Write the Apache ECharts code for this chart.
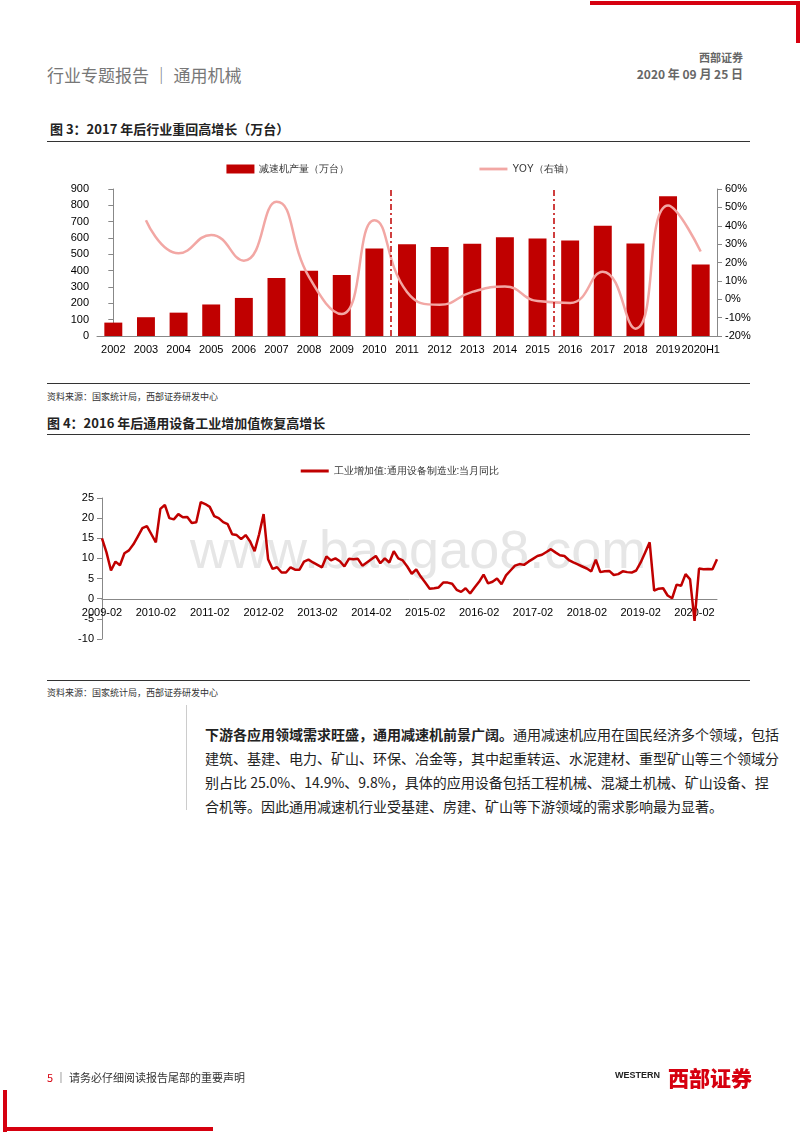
<!DOCTYPE html>
<html><head><meta charset="utf-8">
<script src="https://cdn.jsdelivr.net/npm/echarts@6/dist/echarts.min.js"></script>
<style>
body{margin:0;width:800px;height:1132px;position:relative;background:#fff;font-family:"Noto Sans CJK SC","Noto Sans",sans-serif;overflow:hidden}
.a{position:absolute;white-space:nowrap}
#c{position:absolute;left:0;top:0;width:800px;height:1132px}
.p{position:absolute;left:205px;font-size:14px;color:#222;line-height:24px}
</style></head><body>
<div class="a" style="left:590px;top:1px;width:210px;height:4px;background:#d6000f"></div>
<div class="a" style="left:796px;top:1px;width:4px;height:42px;background:#d6000f"></div>
<div class="a" style="left:47px;top:62px;font-size:17px;color:#777">行业专题报告 ｜ 通用机械</div>
<div class="a" style="right:57px;top:49px;font-size:11px;color:#666;font-weight:bold">西部证券</div>
<div class="a" style="right:57px;top:65px;font-size:12px;color:#666;font-weight:bold">2020 年 09 月 25 日</div>
<div class="a" style="left:50px;top:119px;font-size:13px;color:#222;font-weight:bold">图 3：2017 年后行业重回高增长（万台）</div>
<div class="a" style="left:47px;top:141px;width:703px;height:1px;background:#333"></div>
<div class="a" style="left:47px;top:383px;width:703px;height:1px;background:#333"></div>
<div class="a" style="left:47px;top:390px;font-size:9px;color:#333">资料来源：国家统计局，西部证券研发中心</div>
<div class="a" style="left:47px;top:413px;font-size:13px;color:#222;font-weight:bold">图 4：2016 年后通用设备工业增加值恢复高增长</div>
<div class="a" style="left:47px;top:434px;width:703px;height:1px;background:#333"></div>
<div class="a" style="left:190px;top:518px;font-size:54px;color:#e6e6e6;font-family:'Liberation Sans'">www.baogao8.com</div>
<div class="a" style="left:47px;top:680px;width:703px;height:1px;background:#333"></div>
<div class="a" style="left:47px;top:686px;font-size:9px;color:#333">资料来源：国家统计局，西部证券研发中心</div>
<div class="a" style="left:186px;top:705px;width:1px;height:105px;background:#ccc"></div>
<div class="p" style="top:722px"><b>下游各应用领域需求旺盛，通用减速机前景广阔。</b>通用减速机应用在国民经济多个领域，包括</div>
<div class="p" style="top:746px">建筑、基建、电力、矿山、环保、冶金等，其中起重转运、水泥建材、重型矿山等三个领域分</div>
<div class="p" style="top:770px">别占比 25.0%、14.9%、9.8%，具体的应用设备包括工程机械、混凝土机械、矿山设备、捏</div>
<div class="p" style="top:794px">合机等。因此通用减速机行业受基建、房建、矿山等下游领域的需求影响最为显著。</div>
<div id="c"></div>
<div class="a" style="left:47px;top:1069px;font-size:11px;color:#333"><span style="color:#d6000f">5</span> ｜ 请务必仔细阅读报告尾部的重要声明</div>
<div class="a" style="left:615px;top:1070px;font-size:9px;color:#222;font-weight:bold;font-family:'Liberation Sans'">WESTERN</div>
<div class="a" style="left:668px;top:1062px;font-size:21px;color:#d6000f;font-weight:900">西部证券</div>
<div class="a" style="left:3px;top:1090px;width:4px;height:42px;background:#d6000f"></div>
<div class="a" style="left:3px;top:1127px;width:210px;height:4px;background:#d6000f"></div>
<script>
const years=['2002','2003','2004','2005','2006','2007','2008','2009','2010','2011','2012','2013','2014','2015','2016','2017','2018','2019','2020H1'];
const output=[82,115,143,193,233,355,400,373,535,562,545,565,605,597,585,675,567,855,437];
const yoy=[null,43,25,35,21,53,12,-8,43,4,-3,4,7,-1,-2,15,-16,51,26];
const dividers=[8.5,13.5];
const iva={
2009:[15,11.5,7,9.2,8.3,11.3,12,13.5,15.5,17.5,18],
2010:[16,14,22.3,23.3,20,19.7,21,20.2,20.3,18.8,19,24],
2011:[23.5,22.8,20.5,20,19,18.5,16,15.8,14.8,15.8,14.2,11.8],
2012:[16,21,9.8,7.4,7.8,6.5,6.5,7.8,7.2,7.2,9.2,9.7],
2013:[9,8.4,7.8,10.5,9.5,10,9.3,8,9.9,9.8,9.9,8.2],
2014:[9,9.8,10.6,8.8,10,9,11.8,10,9.5,8,6.2,7.3],
2015:[5.5,4,2.5,2.6,2.8,4,4,3.7,2.2,1.7,2.6,1.3],
2016:[2.8,4.2,6,3.8,4.2,5,3.6,5.8,7,8.2,8.6,8.4],
2017:[9.2,9.9,10.6,10.9,11.6,12.3,11.5,10.8,10.6,9.6,9,8.5],
2018:[8,7.5,6.8,9.7,6.6,6.8,6.9,5.9,6.1,6.8,6.6,6.5],
2019:[7,9,11.5,14,2,2.5,2.6,0.8,0.1,3.5,3.2,6.1],
2020:[4.8,-5.5,7.5,7.3,7.4,7.3,9.8]};
const months=[],vals=[];
Object.keys(iva).forEach(y=>{const st=(y==='2009')?2:1;iva[y].forEach((v,i)=>{months.push(y+'-'+String(st+i).padStart(2,'0'));vals.push(v);});});
const ax={color:'#000',fontSize:11,fontFamily:'Liberation Sans'};
const lineIcon='path://M0,0H30V3H0Z';
const c=echarts.init(document.getElementById('c'));
c.setOption({animation:false,
legend:[{top:159,left:'center',itemGap:130,textStyle:{fontSize:10,color:'#333'},data:[{name:'减速机产量（万台）',icon:'rect'},{name:'YOY（右轴）',icon:lineIcon}],itemWidth:28,itemHeight:9},
{top:461,left:'center',textStyle:{fontSize:10,color:'#333'},data:[{name:'工业增加值:通用设备制造业:当月同比',icon:'rect'}],itemWidth:28,itemHeight:3}],
grid:[{left:97,right:83,top:189,height:147},{left:102,right:83,top:498,height:141}],
xAxis:[{type:'category',data:years,gridIndex:0,axisLine:{lineStyle:{color:'#888'}},axisTick:{show:false},axisLabel:Object.assign({interval:0},ax)},
{type:'value',gridIndex:0,min:-0.5,max:18.5,show:false},
{type:'category',data:months,gridIndex:1,boundaryGap:false,offset:-40,axisLine:{onZero:false,lineStyle:{color:'#888'}},axisTick:{show:false},axisLabel:Object.assign({interval:11,hideOverlap:false},ax)}],
yAxis:[{type:'value',gridIndex:0,min:0,max:900,interval:100,splitLine:{show:false},axisLine:{show:true,lineStyle:{color:'#888'}},axisTick:{show:true},axisLabel:ax},
{type:'value',gridIndex:0,min:-20,max:60,interval:10,splitLine:{show:false},axisLine:{show:true,lineStyle:{color:'#888'}},axisTick:{show:true},axisLabel:Object.assign({formatter:'{value}%'},ax)},
{type:'value',gridIndex:1,min:-10,max:25,interval:5,splitLine:{show:false},axisLine:{show:true,lineStyle:{color:'#888'}},axisTick:{show:true},axisLabel:ax}],
series:[
{name:'减速机产量（万台）',type:'bar',data:output,xAxisIndex:0,yAxisIndex:0,barWidth:'55%',itemStyle:{color:'#c00000'}},
{name:'YOY（右轴）',type:'line',data:yoy,xAxisIndex:0,yAxisIndex:1,smooth:0.5,symbol:'none',lineStyle:{color:'#f2a7a4',width:2.5},itemStyle:{color:'#f2a7a4'}},
{type:'line',data:[],xAxisIndex:1,yAxisIndex:0,markLine:{symbol:'none',silent:true,label:{show:false},lineStyle:{color:'#c00000',type:[6,3,2,3],width:1.5},data:dividers.map(d=>({xAxis:d}))}},
{name:'工业增加值:通用设备制造业:当月同比',type:'line',data:vals,xAxisIndex:2,yAxisIndex:2,symbol:'none',lineStyle:{color:'#c00000',width:2.5},itemStyle:{color:'#c00000'}}
]});
</script></body></html>
